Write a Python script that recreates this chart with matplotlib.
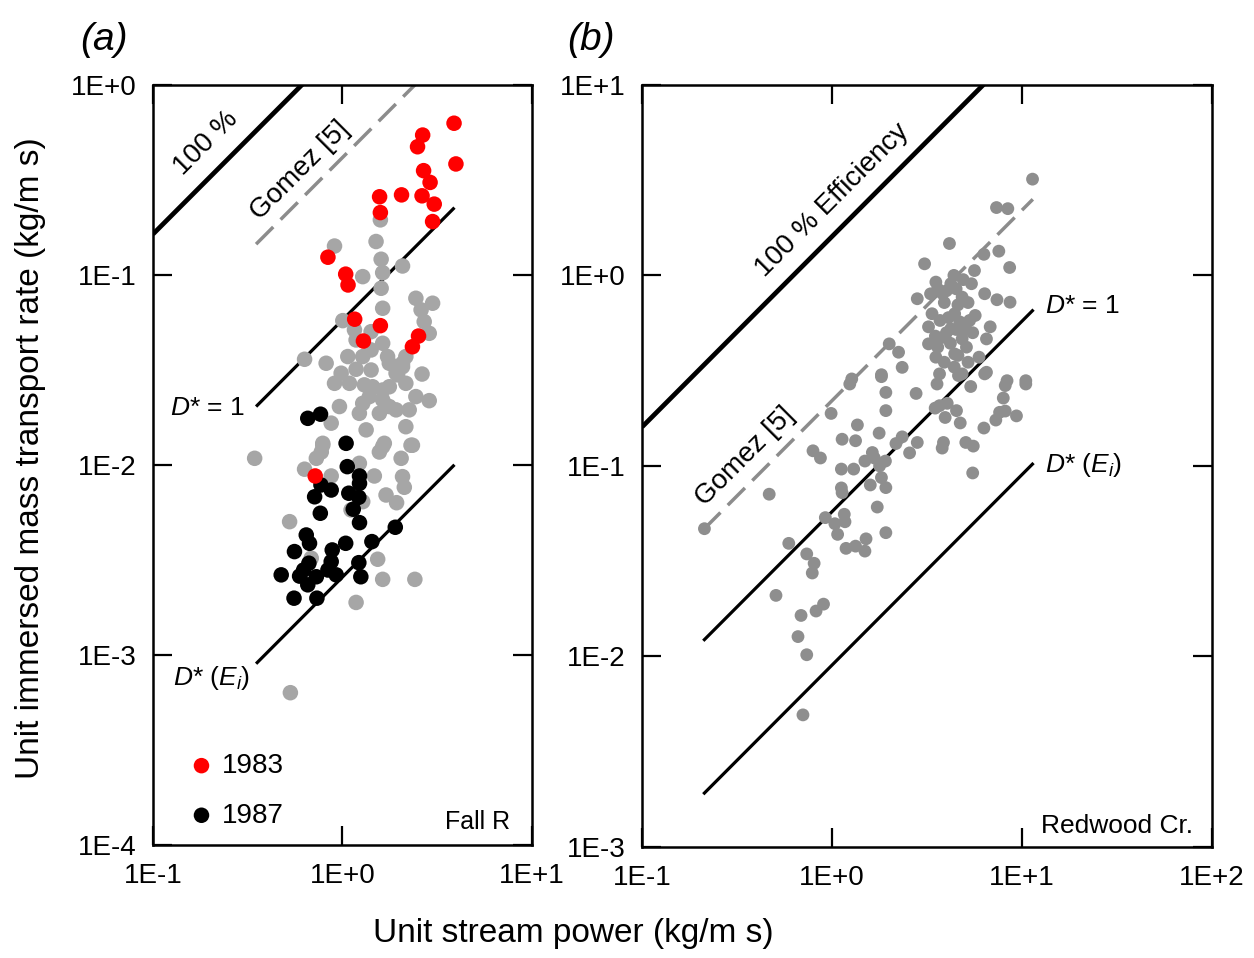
import matplotlib
matplotlib.use("Agg")
import matplotlib.pyplot as plt
import numpy as np
from matplotlib.ticker import FixedLocator, FuncFormatter

plt.rcParams['font.family'] = ['Liberation Sans', 'DejaVu Sans']
plt.rcParams['mathtext.fontset'] = 'custom'
plt.rcParams['mathtext.rm'] = 'Liberation Sans'
plt.rcParams['mathtext.it'] = 'Liberation Sans:italic'

# ---- panel (a): Fall River ----
red83_x = [3.88, 2.65, 2.49, 3.97, 2.68, 2.90, 1.57, 2.05, 2.63, 3.05, 1.585, 2.99,
           0.838, 1.04, 1.07, 1.16, 1.585, 1.29, 2.52, 2.34, 0.718]
red83_y = [0.629, 0.545, 0.473, 0.384, 0.354, 0.307, 0.258, 0.264, 0.261, 0.236, 0.213, 0.191,
           0.124, 0.101, 0.0886, 0.0585, 0.0541, 0.0449, 0.0477, 0.0419, 0.00875]

blk87_x = [0.656, 0.766, 1.045, 1.06, 1.23, 1.23, 0.77, 0.872, 0.713, 0.764, 1.08, 1.22,
           1.14, 1.23, 0.644, 0.670, 0.558, 0.883, 1.04, 1.43, 1.90, 1.22, 0.872, 0.838,
           0.927, 0.665, 0.624, 0.475, 0.594, 0.728, 0.656, 0.555, 0.733, 1.25]
blk87_y = [0.0176, 0.0185, 0.0130, 0.0098, 0.00875, 0.0080, 0.00785, 0.00738, 0.0068, 0.00557,
           0.0071, 0.00676, 0.00585, 0.00497, 0.00428, 0.00387, 0.0035, 0.00357, 0.00387,
           0.00395, 0.0047, 0.00306, 0.0031, 0.0028, 0.00264, 0.00304, 0.0028, 0.00264,
           0.0026, 0.00258, 0.00234, 0.00199, 0.00199, 0.00258]

gray_a_x = [1.585, 1.504, 0.908, 1.60, 2.075, 1.279, 1.63, 1.60, 2.44, 2.99, 2.60, 1.63,
            1.004, 1.157, 2.70, 2.87, 1.416, 1.18, 1.63, 0.631, 0.820, 1.067, 1.279, 1.416,
            1.73, 1.767, 2.16, 2.075, 0.984, 1.18, 1.416, 1.955, 2.63,
            0.908, 1.089, 1.305, 1.443, 1.63, 1.767, 1.918, 2.075, 2.16, 2.44, 2.87, 2.25,
            1.279, 1.387, 1.63, 1.767, 1.566, 1.918, 0.964, 0.872, 1.228, 1.333, 2.16,
            0.787, 0.773, 1.663, 1.566, 2.34, 0.344,
            0.787, 0.728, 1.228, 1.63, 2.30, 2.04, 2.075, 2.12, 1.473, 1.698, 1.93, 0.872,
            0.631, 1.11, 1.279, 0.526, 0.684, 1.534, 1.63, 2.41, 1.18, 0.531]
gray_a_y = [0.195, 0.150, 0.142, 0.121, 0.1115, 0.098, 0.1028, 0.0851, 0.0754, 0.0710, 0.0655,
            0.0668, 0.0575, 0.0514, 0.0568, 0.0493, 0.0503, 0.0455, 0.0437, 0.036, 0.0343,
            0.0372, 0.0372, 0.0403, 0.0372, 0.0343, 0.0372, 0.0329, 0.0304, 0.0319, 0.0316,
            0.0298, 0.0301,
            0.0269, 0.0269, 0.0264, 0.0258, 0.0248, 0.0258, 0.0304, 0.0343, 0.0269, 0.0229,
            0.0218, 0.0195, 0.0211, 0.0229, 0.0220, 0.0203, 0.0187, 0.0195, 0.0203, 0.0166,
            0.0187, 0.0153, 0.0159, 0.0130, 0.0117, 0.0130, 0.0117, 0.0127, 0.01084,
            0.0127, 0.01084, 0.0102, 0.0125, 0.0127, 0.01084, 0.00868, 0.00763, 0.00875,
            0.00695, 0.00633, 0.00875, 0.0095, 0.0058, 0.00641, 0.00503, 0.00323, 0.00319,
            0.0025, 0.0025, 0.00189, 0.000633]

# ---- panel (b): Redwood Creek ----
gray_b_x = [11.36, 7.34, 8.42, 4.15, 7.55, 6.30, 3.07, 8.61, 4.38, 5.62, 3.52, 4.22, 5.42,
            2.81, 3.82, 4.84, 6.36, 7.38, 8.65, 3.36, 4.42, 5.67, 3.22, 4.22, 5.06, 6.80,
            2.0, 3.22, 3.86, 4.84, 6.50, 2.24, 3.52, 4.42, 5.94, 2.34, 3.68, 4.84, 6.50,
            1.82, 1.27, 8.34, 10.47,
            1.24, 1.82, 4.63, 6.36, 3.57, 5.37, 8.16, 10.47, 1.92, 2.77, 7.97, 3.68, 4.04,
            3.49, 4.52, 3.94, 1.92, 0.989, 7.62, 8.16, 9.35, 7.28, 4.73, 6.30, 1.36, 1.77,
            2.34, 1.13, 1.33, 2.17, 2.81, 3.86, 3.80, 5.06, 5.54, 0.794, 0.869, 2.56, 1.63,
            1.49, 1.67, 1.91, 1.78, 1.12, 1.30, 5.50, 1.82, 1.59, 1.92, 1.12, 1.13, 0.467,
            1.73, 0.922, 1.16, 1.035, 1.17, 1.07, 1.92, 0.213, 0.592, 1.185, 1.33, 1.51,
            1.49, 0.736, 0.805, 0.787, 0.507, 0.902, 0.824, 0.687, 0.662, 0.736, 0.703,
            3.6, 4.0, 4.5, 3.9, 4.6, 5.2, 3.7, 4.1, 4.7, 5.3, 3.5, 4.0, 4.5, 5.5, 3.6,
            4.2, 5.1, 4.6, 3.9, 4.4, 5.2, 3.3, 4.9]
gray_b_y = [3.20, 2.27, 2.24, 1.47, 1.34, 1.29, 1.15, 1.10, 1.0, 1.06, 0.922, 0.904, 0.904,
            0.754, 0.801, 0.769, 0.801, 0.745, 0.723, 0.629, 0.629, 0.616, 0.537, 0.524,
            0.524, 0.537, 0.437, 0.437, 0.473, 0.464, 0.464, 0.395, 0.372, 0.387, 0.372,
            0.329, 0.304, 0.304, 0.310, 0.301, 0.286, 0.280, 0.280,
            0.269, 0.294, 0.298, 0.304, 0.269, 0.261, 0.264, 0.269, 0.243, 0.240, 0.227,
            0.207, 0.213, 0.201, 0.195, 0.1795, 0.195, 0.1885, 0.191, 0.194, 0.183, 0.174,
            0.168, 0.158, 0.164, 0.1486, 0.142, 0.138, 0.1355, 0.131, 0.1327, 0.1327, 0.124,
            0.1327, 0.127, 0.120, 0.110, 0.117, 0.1175, 0.106, 0.110, 0.106, 0.1, 0.0962,
            0.0962, 0.0918, 0.0868, 0.0794, 0.0769, 0.0766, 0.0723, 0.071, 0.0608, 0.0535,
            0.0557, 0.0497, 0.0509, 0.0437, 0.0446, 0.0468, 0.0392, 0.0369, 0.0379, 0.0414,
            0.0357, 0.0345, 0.0308, 0.0274, 0.0209, 0.0188, 0.0173, 0.0164, 0.0127, 0.0102,
            0.00493,
            0.85, 0.83, 0.85, 0.72, 0.70, 0.72, 0.58, 0.60, 0.57, 0.58, 0.48, 0.50, 0.52,
            0.50, 0.42, 0.44, 0.42, 0.38, 0.35, 0.33, 0.35, 0.80, 0.95]

# reference lines y = c * x : (coefficient, x start, x end)
lines_a = {'eff100': (1.64, 0.1, 1.0), 'gomez': (0.415, 0.35, 3.0),
           'dstar1': (0.058, 0.35, 3.9), 'dstarEi': (0.00257, 0.35, 3.9)}
lines_b = {'eff100': (1.6, 0.1, 10.0), 'gomez': (0.22, 0.21, 11.4),
           'dstar1': (0.0575, 0.21, 11.5), 'dstarEi': (0.009, 0.21, 11.5)}

fig = plt.figure(figsize=(12.54, 9.58), dpi=100)
axa = fig.add_axes([0.122, 0.118, 0.3022, 0.7933])
axb = fig.add_axes([0.512, 0.116, 0.4545, 0.7954])


def draw_lines(ax, spec):
    for key, (c, x0, x1) in spec.items():
        xs = np.array([x0, x1])
        if key == 'eff100':
            ax.plot(xs, c * xs, color='black', lw=3.4, zorder=1, solid_capstyle='butt')
        elif key == 'gomez':
            ax.plot(xs, c * xs, color='#8c8c8c', lw=2.5, ls=(0, (7, 3)), zorder=1)
        else:
            ax.plot(xs, c * xs, color='black', lw=2.3, zorder=1, solid_capstyle='butt')


def style(ax, xlim, ylim):
    ax.set_xscale('log')
    ax.set_yscale('log')
    ax.set_xlim(*xlim)
    ax.set_ylim(*ylim)
    fmt = FuncFormatter(lambda v, p: "1E%+d" % int(round(np.log10(v))))
    ax.xaxis.set_major_locator(FixedLocator(10.0 ** np.arange(np.log10(xlim[0]), np.log10(xlim[1]) + 0.5)))
    ax.yaxis.set_major_locator(FixedLocator(10.0 ** np.arange(np.log10(ylim[0]), np.log10(ylim[1]) + 0.5)))
    ax.xaxis.set_major_formatter(fmt)
    ax.yaxis.set_major_formatter(fmt)
    ax.minorticks_off()
    ax.tick_params(which='major', direction='in', length=14, width=1.6,
                   top=True, right=True, labelsize=20)
    ax.tick_params(axis='x', pad=13)
    ax.tick_params(axis='y', pad=12)
    for s in ax.spines.values():
        s.set_linewidth(1.8)


# panel (a)
draw_lines(axa, lines_a)
axa.scatter(gray_a_x, gray_a_y, s=125, color='#a6a6a6', edgecolors='none', zorder=2)
axa.scatter(blk87_x, blk87_y, s=125, color='black', edgecolors='none', zorder=3, label='1987')
axa.scatter(red83_x, red83_y, s=125, color='#ff0000', edgecolors='none', zorder=4, label='1983')
style(axa, (0.1, 10), (1e-4, 1))

axa.text(0.14, 0.924, '100 %', transform=axa.transAxes, rotation=45, fontsize=20,
         ha='center', va='center')
axa.text(0.388, 0.888, 'Gomez [5]', transform=axa.transAxes, rotation=45, fontsize=20,
         ha='center', va='center')
axa.text(0.243, 0.575, '$D$* = 1', transform=axa.transAxes, fontsize=19, ha='right', va='center')
axa.text(0.256, 0.22, '$D$* ($E_i$)', transform=axa.transAxes, fontsize=19, ha='right', va='center')
axa.text(0.942, 0.03, 'Fall R', transform=axa.transAxes, fontsize=18, ha='right', va='center')
h, l = axa.get_legend_handles_labels()
axa.legend(h[::-1], l[::-1], loc='lower left', bbox_to_anchor=(0.04, -0.004), frameon=False,
           fontsize=20, handletextpad=0.25, handlelength=1.0, markerscale=1.0,
           labelspacing=0.85, borderaxespad=0.3)

# panel (b)
draw_lines(axb, lines_b)
axb.scatter(gray_b_x, gray_b_y, s=85, color='#8e8e8e', edgecolors='none', zorder=2)
style(axb, (0.1, 100), (1e-3, 10))
axb.text(0.333, 0.849, '100 % Efficiency', transform=axb.transAxes, rotation=45, fontsize=20,
         ha='center', va='center')
axb.text(0.181, 0.512, 'Gomez [5]', transform=axb.transAxes, rotation=45, fontsize=20,
         ha='center', va='center')
axb.text(0.707, 0.71, '$D$* = 1', transform=axb.transAxes, fontsize=19, ha='left', va='center')
axb.text(0.707, 0.501, '$D$* ($E_i$)', transform=axb.transAxes, fontsize=19, ha='left', va='center')
axb.text(0.967, 0.028, 'Redwood Cr.', transform=axb.transAxes, fontsize=19, ha='right', va='center')

fig.text(0.083, 0.958, '(a)', fontsize=28, style='italic', ha='center', va='center')
fig.text(0.471, 0.958, '(b)', fontsize=28, style='italic', ha='center', va='center')
fig.text(0.457, 0.026, 'Unit stream power (kg/m s)', fontsize=24, ha='center', va='center')
fig.text(0.024, 0.522, 'Unit immersed mass transport rate (kg/m s)', fontsize=24,
         rotation=90, ha='center', va='center')

fig.savefig('out.png', dpi=100)
